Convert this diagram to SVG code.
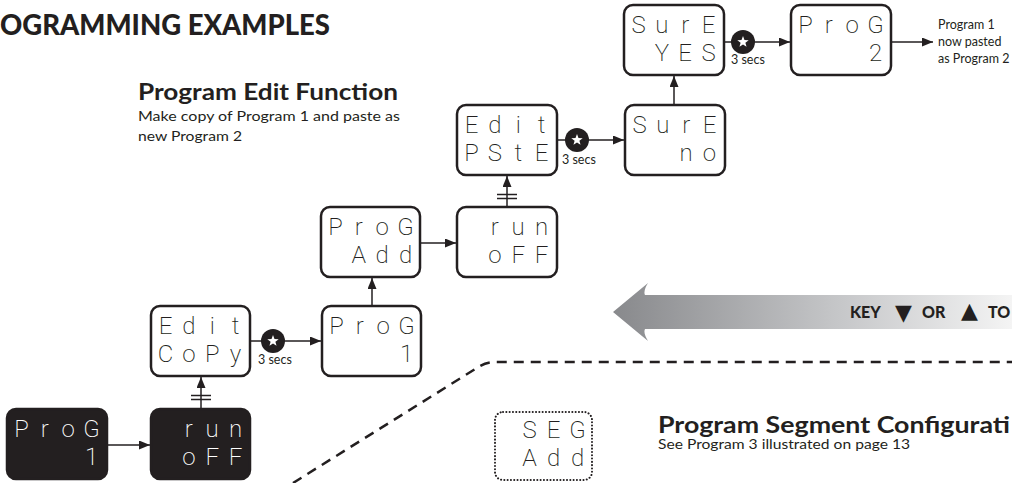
<svg xmlns="http://www.w3.org/2000/svg" xmlns:xlink="http://www.w3.org/1999/xlink" width="1012" height="483" viewBox="0 0 1012 483">
<style>
.box{fill:#fff;stroke:#231f20;stroke-width:2.5}
.dbox{fill:#231f20;stroke:#231f20;stroke-width:2.5}
.dot{fill:#fff;stroke:#231f20;stroke-width:2;stroke-dasharray:0.1 3.2;stroke-linecap:round}
.seg{font-family:Roboto,"Liberation Sans",sans-serif;font-weight:200;font-size:24px;text-anchor:middle;fill:#231f20}
.segw{fill:#fff}
.ln{stroke:#231f20;stroke-width:1.5;fill:none}
.lbl{font-family:Lato,"Open Sans",sans-serif;font-size:12.5px;fill:#231f20}
.h1{font-family:Lato,"Liberation Sans",sans-serif;font-weight:900;fill:#231f20}
.h2{font-family:Lato,"Liberation Sans",sans-serif;font-weight:700;font-size:22px;fill:#231f20}
.body{font-family:Lato,"Open Sans",sans-serif;font-size:13px;fill:#231f20}
.tri{font-family:"DejaVu Sans",sans-serif;font-size:22px}
</style>
<defs>
<marker id="ah" markerUnits="userSpaceOnUse" markerWidth="11" markerHeight="9" refX="11" refY="4.5" orient="auto">
<path d="M0,0 L11,4.5 L0,9 Z" fill="#231f20"/>
</marker>
<g id="star">
<circle r="12" fill="#231f20"/>
<polygon fill="#fff" points="0,-6 1.47,-2.02 5.71,-1.85 2.38,0.77 3.53,4.85 0,2.5 -3.53,4.85 -2.38,0.77 -5.71,-1.85 -1.47,-2.02"/>
</g>
<linearGradient id="grad" gradientUnits="userSpaceOnUse" x1="613" y1="0" x2="1012" y2="0">
<stop offset="0" stop-color="#88898c"/>
<stop offset="0.55" stop-color="#c4c5c7"/>
<stop offset="1" stop-color="#f4f4f4"/>
</linearGradient>
</defs>

<rect width="1012" height="483" fill="#fff"/>

<text class="h1" x="0" y="35" font-size="29" textLength="330" lengthAdjust="spacingAndGlyphs">OGRAMMING EXAMPLES</text>
<text class="h2" x="138" y="100" font-size="23" textLength="260" lengthAdjust="spacingAndGlyphs">Program Edit Function</text>
<text class="body" x="138" y="121" textLength="262" lengthAdjust="spacingAndGlyphs">Make copy of Program 1 and paste as</text>
<text class="body" x="138" y="141" textLength="104" lengthAdjust="spacingAndGlyphs">new Program 2</text>

<g id="gray-arrow">
<path d="M613,312 L648,283 Q643,291 645,295 L1012,295 L1012,329 L645,329 Q643,333 648,341 Z" fill="url(#grad)"/>
<text y="318" font-family="Lato,'Liberation Sans',sans-serif" font-weight="900" font-size="16" fill="#231f20"><tspan x="850">KEY</tspan><tspan class="tri" x="895" y="320">▼</tspan><tspan x="922" y="318">OR</tspan><tspan class="tri" x="961" y="318">▲</tspan><tspan x="988" y="318">TO</tspan></text>
</g>

<path id="divider" d="M293,483 L480,366 Q487,362 495,362 L1012,362" fill="none" stroke="#231f20" stroke-width="2.5" stroke-dasharray="10 7"/>

<text class="h2" x="658" y="433" textLength="352" lengthAdjust="spacingAndGlyphs">Program Segment Configurati</text>
<text class="body" x="658" y="449" textLength="252" lengthAdjust="spacingAndGlyphs">See Program 3 illustrated on page 13</text>

<g id="connectors">
<line class="ln" x1="107" y1="445" x2="150" y2="445" marker-end="url(#ah)"/>
<line class="ln" x1="201" y1="409" x2="201" y2="377" marker-end="url(#ah)"/>
<line class="ln" x1="191" y1="395.5" x2="211" y2="395.5"/>
<line class="ln" x1="191" y1="399.5" x2="211" y2="399.5"/>
<line class="ln" x1="251" y1="341" x2="321" y2="341" marker-end="url(#ah)"/>
<use xlink:href="#star" x="273" y="341"/>
<text class="lbl" x="258" y="364">3 secs</text>
<line class="ln" x1="372" y1="306" x2="372" y2="278" marker-end="url(#ah)"/>
<line class="ln" x1="421" y1="243" x2="456" y2="243" marker-end="url(#ah)"/>
<line class="ln" x1="507" y1="207" x2="507" y2="176" marker-end="url(#ah)"/>
<line class="ln" x1="497" y1="194.5" x2="517" y2="194.5"/>
<line class="ln" x1="497" y1="198.5" x2="517" y2="198.5"/>
<line class="ln" x1="557" y1="140" x2="624" y2="140" marker-end="url(#ah)"/>
<use xlink:href="#star" x="577" y="140"/>
<text class="lbl" x="562" y="164">3 secs</text>
<line class="ln" x1="674" y1="105" x2="674" y2="76" marker-end="url(#ah)"/>
<line class="ln" x1="724" y1="42" x2="790" y2="42" marker-end="url(#ah)"/>
<use xlink:href="#star" x="743" y="42"/>
<text class="lbl" x="731" y="64">3 secs</text>
<line class="ln" x1="891" y1="42" x2="933" y2="42" marker-end="url(#ah)"/>
</g>

<g id="result-note">
<text class="lbl" x="938" y="29">Program 1</text>
<text class="lbl" x="938" y="46">now pasted</text>
<text class="lbl" x="938" y="63">as Program 2</text>
</g>

<g id="n-prog1-dark">
<rect class="dbox" x="7" y="409" width="100" height="70" rx="9"/>
<text class="seg segw" x="21.6 44.9 68.2 91.5" y="437">ProG</text>
<text class="seg segw" x="91.5" y="465">1</text>
</g>
<g id="n-run-dark">
<rect class="dbox" x="151" y="409" width="99" height="70" rx="9"/>
<text class="seg segw" x="188.9 212.2 235.5" y="437">run</text>
<text class="seg segw" x="188.9 212.2 235.5" y="465">oFF</text>
</g>
<g id="n-edit-copy">
<rect class="box" x="151" y="306" width="99" height="70" rx="9"/>
<text class="seg" x="165.6 188.9 212.2 235.5" y="334">Edit</text>
<text class="seg" x="165.6 188.9 212.2 235.5" y="362">CoPy</text>
</g>
<g id="n-prog1">
<rect class="box" x="322" y="306" width="99" height="70" rx="9"/>
<text class="seg" x="336.6 359.9 383.2 406.5" y="334">ProG</text>
<text class="seg" x="406.5" y="362">1</text>
</g>
<g id="n-prog-add">
<rect class="box" x="321" y="207" width="99" height="70" rx="9"/>
<text class="seg" x="335.6 358.9 382.2 405.5" y="235">ProG</text>
<text class="seg" x="358.9 382.2 405.5" y="263">Add</text>
</g>
<g id="n-run">
<rect class="box" x="457" y="207" width="100" height="70" rx="9"/>
<text class="seg" x="494.9 518.2 541.5" y="235">run</text>
<text class="seg" x="494.9 518.2 541.5" y="263">oFF</text>
</g>
<g id="n-edit-pste">
<rect class="box" x="457" y="105" width="100" height="70" rx="9"/>
<text class="seg" x="471.6 494.9 518.2 541.5" y="133">Edit</text>
<text class="seg" x="471.6 494.9 518.2 541.5" y="161">PStE</text>
</g>
<g id="n-sure-no">
<rect class="box" x="625" y="105" width="100" height="70" rx="9"/>
<text class="seg" x="639.6 662.9 686.2 709.5" y="133">SurE</text>
<text class="seg" x="686.2 709.5" y="161">no</text>
</g>
<g id="n-sure-yes">
<rect class="box" x="624" y="5" width="100" height="70" rx="9"/>
<text class="seg" x="638.6 661.9 685.2 708.5" y="33">SurE</text>
<text class="seg" x="661.9 685.2 708.5" y="61">YES</text>
</g>
<g id="n-prog2">
<rect class="box" x="791" y="5" width="100" height="70" rx="9"/>
<text class="seg" x="805.6 828.9 852.2 875.5" y="33">ProG</text>
<text class="seg" x="875.5" y="61">2</text>
</g>
<g id="n-seg-add">
<rect class="dot" x="495" y="412" width="97" height="68" rx="8"/>
<text class="seg" x="529.5 553.5 577.5" y="438">SEG</text>
<text class="seg" x="529.5 553.5 577.5" y="466">Add</text>
</g>
</svg>
